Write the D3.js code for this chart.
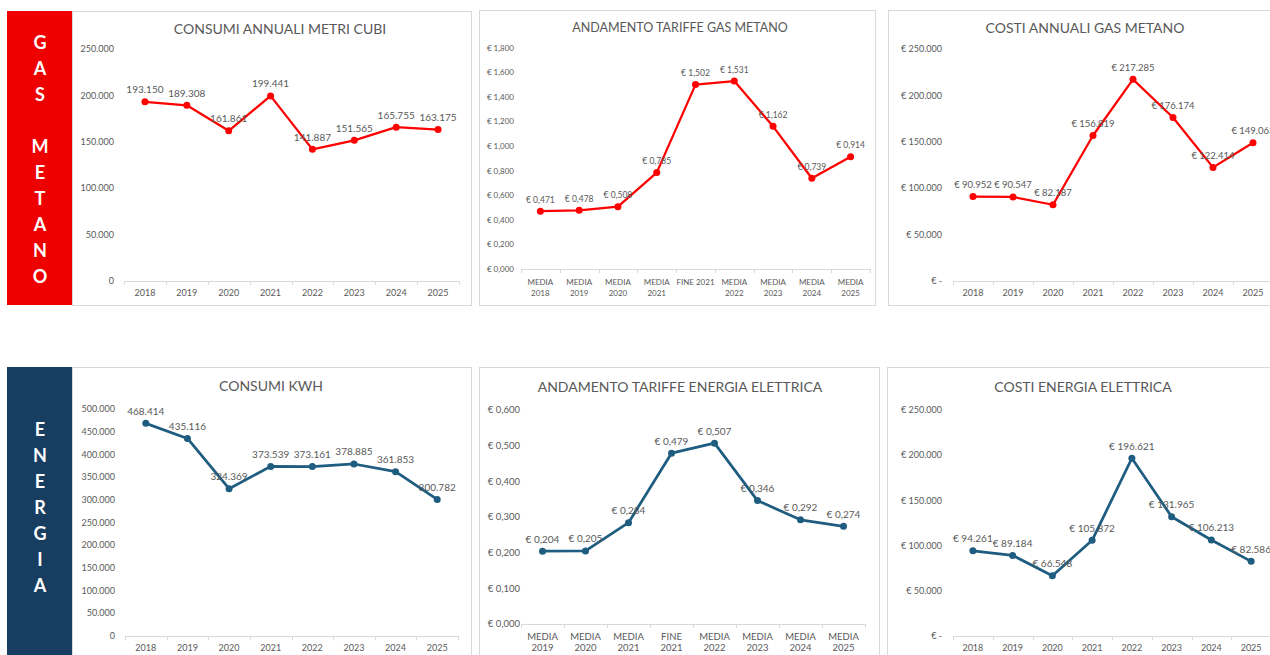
<!DOCTYPE html>
<html>
<head>
<meta charset="utf-8">
<script src="https://cdn.jsdelivr.net/npm/d3@7"></script>
<style>
  body { margin: 0; background: #fff; }
  svg { display: block; font-family: Lato, "Open Sans", sans-serif; }
</style>
</head>
<body>
<div class="chart"></div>
<script>
// data
const years = ['2018', '2019', '2020', '2021', '2022', '2023', '2024', '2025'];
const gasConsumi = [193150, 189308, 161861, 199441, 141887, 151565, 165755, 163175];
const gasTariffCats = ['MEDIA\n2018', 'MEDIA\n2019', 'MEDIA\n2020', 'MEDIA\n2021', 'FINE 2021', 'MEDIA\n2022', 'MEDIA\n2023', 'MEDIA\n2024', 'MEDIA\n2025'];
const gasTariff = [0.471, 0.478, 0.508, 0.785, 1.502, 1.531, 1.162, 0.739, 0.914];
const gasCosti = [90952, 90547, 82187, 156819, 217285, 176174, 122414, 149063];
const kwhConsumi = [468414, 435116, 324369, 373539, 373161, 378885, 361853, 300782];
const eeTariffCats = ['MEDIA\n2019', 'MEDIA\n2020', 'MEDIA\n2021', 'FINE\n2021', 'MEDIA\n2022', 'MEDIA\n2023', 'MEDIA\n2024', 'MEDIA\n2025'];
const eeTariff = [0.204, 0.205, 0.284, 0.479, 0.507, 0.346, 0.292, 0.274];
const eeCosti = [94261, 89184, 66548, 105872, 196621, 131965, 106213, 82586];

const gasTicks = [0, 50000, 100000, 150000, 200000, 250000];
const gasTariffTicks = [0, 0.2, 0.4, 0.6, 0.8, 1.0, 1.2, 1.4, 1.6, 1.8];
const kwhTicks = [0, 50000, 100000, 150000, 200000, 250000, 300000, 350000, 400000, 450000, 500000];
const eeTariffTicks = [0, 0.1, 0.2, 0.3, 0.4, 0.5, 0.6];
const euroTicks = [0, 50000, 100000, 150000, 200000, 250000];

const it = d3.formatLocale({decimal: ',', thousands: '.', grouping: [3], currency: ['€ ', '']});
const fInt = it.format(',.0f');
const fTar = it.format(',.3f');
const numFmt = v => fInt(v);
const tarFmt = v => '€ ' + fTar(v);
const eurFmt = v => v === 0 ? '€ -' : '€ ' + fInt(v);

const RED = '#ff0000', BLUE = '#1f5d80', GREY = '#595959', LIGHT = '#d9d9d9';

const svg = d3.select('.chart').append('svg')
    .attr('width', 1270)
    .attr('height', 655);

// side bands
const bands = [
  {y: 11, h: 294, color: '#ee0000', letters: ['G', 'A', 'S', '', 'M', 'E', 'T', 'A', 'N', 'O'], y0: 43},
  {y: 367, h: 300, color: '#173d61', letters: ['E', 'N', 'E', 'R', 'G', 'I', 'A'], y0: 430}
];
bands.forEach(b => {
  svg.append('rect').attr('x', 7).attr('y', b.y).attr('width', 65).attr('height', b.h).attr('fill', b.color);
  svg.selectAll(null).data(b.letters).enter().append('text')
    .attr('x', 40).attr('y', (d, i) => b.y0 + i * 26)
    .attr('dy', '0.35em')
    .attr('text-anchor', 'middle')
    .attr('fill', '#fff')
    .attr('font-weight', 'bold')
    .attr('font-size', '18px')
    .text(d => d);
});

const panels = [
  {box: [72, 11, 399, 294], title: 'CONSUMI ANNUALI METRI CUBI', tx: 280, ty: 29, tsize: 14,
   cats: years, vals: gasConsumi, ticks: gasTicks, max: 250000, fmt: numFmt, lblFmt: numFmt,
   px: [124, 459], py: [281, 49], color: RED, lw: 2.25, r: 3.5, fs: 9, ls: 10, yl: 114},
  {box: [479, 10, 396, 295], title: 'ANDAMENTO TARIFFE GAS METANO', tx: 680, ty: 28, tsize: 12.5,
   cats: gasTariffCats, vals: gasTariff, ticks: gasTariffTicks, max: 1.8, fmt: tarFmt, lblFmt: tarFmt,
   px: [521, 870], py: [269, 48], color: RED, lw: 2.25, r: 3.5, fs: 8, ls: 8.5, yl: 514},
  {box: [888, 10, 400, 295], title: 'COSTI ANNUALI GAS METANO', tx: 1085, ty: 28, tsize: 14,
   cats: years, vals: gasCosti, ticks: euroTicks, max: 250000, fmt: eurFmt, lblFmt: eurFmt,
   px: [953, 1273], py: [281, 49], color: RED, lw: 2.25, r: 3.5, fs: 9, ls: 9.5, yl: 942},
  {box: [72, 367, 399, 300], title: 'CONSUMI KWH', tx: 271, ty: 386, tsize: 14,
   cats: years, vals: kwhConsumi, ticks: kwhTicks, max: 500000, fmt: numFmt, lblFmt: numFmt,
   px: [125, 458], py: [636, 409], color: BLUE, lw: 2.75, r: 3.5, fs: 9, ls: 10, yl: 115},
  {box: [479, 367, 400, 300], title: 'ANDAMENTO TARIFFE ENERGIA ELETTRICA', tx: 680, ty: 387, tsize: 14,
   cats: eeTariffCats, vals: eeTariff, ticks: eeTariffTicks, max: 0.6, fmt: tarFmt, lblFmt: tarFmt,
   px: [521, 865], py: [624, 410], color: BLUE, lw: 2.75, r: 3.5, fs: 9.5, ls: 10, yl: 520},
  {box: [887, 367, 400, 300], title: 'COSTI ENERGIA ELETTRICA', tx: 1083, ty: 387, tsize: 14,
   cats: years, vals: eeCosti, ticks: euroTicks, max: 250000, fmt: eurFmt, lblFmt: eurFmt,
   px: [953, 1271], py: [636, 410], color: BLUE, lw: 2.75, r: 3.5, fs: 9, ls: 10, yl: 942}
];

panels.forEach(p => {
  const g = svg.append('g');
  g.append('rect')
    .attr('x', p.box[0] + 0.5).attr('y', p.box[1] + 0.5)
    .attr('width', p.box[2]).attr('height', p.box[3])
    .attr('fill', 'none').attr('stroke', LIGHT);

  g.append('text')
    .attr('x', p.tx).attr('y', p.ty).attr('dy', '0.35em')
    .attr('text-anchor', 'middle')
    .attr('fill', GREY)
    .attr('font-size', p.tsize + 'px')
    .text(p.title);

  const x = d3.scaleBand().domain(p.cats).range(p.px).padding(0);
  const y = d3.scaleLinear().domain([0, p.max]).range(p.py);
  const cx = d => x(d) + x.bandwidth() / 2;

  // y tick labels
  g.selectAll(null).data(p.ticks).enter().append('text')
    .attr('x', p.yl).attr('y', d => y(d)).attr('dy', '0.35em')
    .attr('text-anchor', 'end')
    .attr('fill', GREY)
    .attr('font-size', p.fs + 'px')
    .text(d => p.fmt(d));

  // x axis line and boundary ticks
  g.append('line')
    .attr('x1', p.px[0]).attr('x2', p.px[1])
    .attr('y1', p.py[0] + 0.5).attr('y2', p.py[0] + 0.5)
    .attr('stroke', LIGHT);
  const bounds = p.cats.map(c => x(c)).concat([p.px[1]]);
  g.selectAll(null).data(bounds).enter().append('line')
    .attr('x1', d => Math.round(d) + 0.5).attr('x2', d => Math.round(d) + 0.5)
    .attr('y1', p.py[0]).attr('y2', p.py[0] + 4)
    .attr('stroke', LIGHT);

  // x labels
  const xl = g.selectAll(null).data(p.cats).enter().append('text')
    .attr('text-anchor', 'middle')
    .attr('fill', GREY)
    .attr('font-size', p.fs + 'px');
  const multi = p.cats.some(c => c.includes('\n'));
  xl.each(function(d) {
    const parts = d.split('\n');
    const t = d3.select(this);
    if (!multi) {
      t.append('tspan').attr('x', cx(d)).attr('y', p.py[0] + 12).attr('dy', '0.35em').text(d);
    } else {
      parts.forEach((s, k) => {
        t.append('tspan').attr('x', cx(d)).attr('y', p.py[0] + 13 + k * 11).attr('dy', '0.35em').text(s);
      });
    }
  });

  // line
  const line = d3.line().x((d, i) => cx(p.cats[i])).y(d => y(d));
  g.append('path')
    .datum(p.vals)
    .attr('d', line)
    .attr('fill', 'none')
    .attr('stroke', p.color)
    .attr('stroke-width', p.lw)
    .attr('stroke-linejoin', 'round');

  g.selectAll(null).data(p.vals).enter().append('circle')
    .attr('cx', (d, i) => cx(p.cats[i]))
    .attr('cy', d => y(d))
    .attr('r', p.r)
    .attr('fill', p.color);

  g.selectAll(null).data(p.vals).enter().append('text')
    .attr('x', (d, i) => cx(p.cats[i]))
    .attr('y', d => y(d) - 8.5)
    .attr('text-anchor', 'middle')
    .attr('fill', GREY)
    .attr('font-size', p.ls + 'px')
    .text(d => p.lblFmt(d));
});
</script>
</body>
</html>
